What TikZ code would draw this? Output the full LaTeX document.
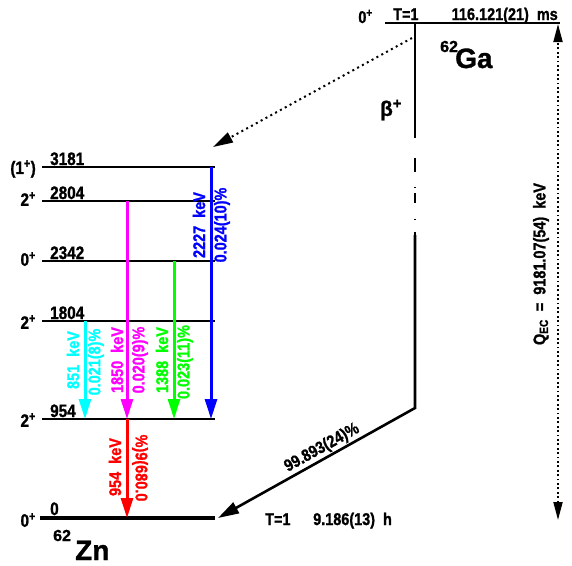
\documentclass[tikz,border=0pt]{standalone}
\usepackage{fontspec}
\setmainfont{Liberation Sans}[BoldFeatures={FakeBold=1.2}]
\newfontfamily\cnd{Liberation Sans}[FakeStretch=0.85,BoldFeatures={FakeBold=1.2}]
\usetikzlibrary{arrows.meta}
\definecolor{gcyan}{RGB}{0,255,255}
\definecolor{gmagenta}{RGB}{255,0,255}
\definecolor{ggreen}{RGB}{0,255,0}
\definecolor{gblue}{RGB}{0,0,255}
\definecolor{gred}{RGB}{255,0,0}
\tikzset{
  lvl/.style={line width=2.6pt},
  gnd/.style={line width=3.6pt},
  gam/.style={line width=3pt,-{Triangle[length=20pt,width=12pt]}},
  txt/.style={inner sep=0pt,font=\cnd\bfseries\fontsize{18}{18}\selectfont},
  gtxt/.style={inner sep=0pt,font=\cnd\bfseries\fontsize{17}{17}\selectfont,rotate=90},
  sml/.style={inner sep=0pt,font=\cnd\bfseries\fontsize{17}{17}\selectfont},
  big/.style={inner sep=0pt,font=\bfseries\fontsize{28}{28}\selectfont},
  bigsup/.style={inner sep=0pt,font=\bfseries\fontsize{16}{16}\selectfont},
  dots/.style={line width=2pt,dash pattern=on 2pt off 3.5pt},
}
\begin{document}
\begin{tikzpicture}[x=1pt,y=-1pt]
\useasboundingbox (0,0) rectangle (572,565);
% ---- 62Ga parent level
\coordinate (gaL) at (385,23);
\coordinate (gaR) at (560,23);
\draw[lvl] (gaL) -- (gaR);
\node[sml,anchor=base east] (gaspin) at (373,23) {0\textsuperscript{+}};
\node[sml,anchor=base west] (gaT) at (393,20) {T=1};
\node[sml,anchor=base east] (gahl) at (558,20) {116.121(21)\ \ ms};
\node[bigsup,anchor=base west] (ga62) at (440,52) {62};
\node[big,anchor=base west] (ganame) at (455,68) {Ga};
% beta line
\coordinate (b0) at (415,23);
\coordinate (b1) at (415,138);
\coordinate (b2) at (415,158);
\coordinate (b3) at (415,235);
\coordinate (bk) at (415,408);
\draw[line width=2.6pt] (b0) -- (b1);
\draw[line width=2.6pt,dash pattern=on 14pt off 15pt on 1pt off 5pt on 10pt off 16pt on 1pt off 12pt on 8pt] (b2) -- (b3);
\node[inner sep=0pt,font=\bfseries\fontsize{21}{21}\selectfont] (beta) at (391,110) {β\textsuperscript{+}};
% dotted feed arrow
\coordinate (fd0) at (412,38);
\coordinate (fd1) at (213,147);
\draw[dots,-{Triangle[length=20pt,width=11pt]}] (fd0) -- (fd1);
% QEC arrow
\coordinate (q0) at (558,520);
\coordinate (q1) at (558,24);
\draw[dots,line width=1.8pt,dash pattern=on 1.8pt off 2.6pt,{Triangle[length=18pt,width=9pt]}-{Triangle[length=18pt,width=9pt]}] (q0) -- (q1);
\node[sml,rotate=90] (qec) at (541,264) {Q\textsubscript{EC}\ \ =\ \ 9181.07(54)\ \ keV};
% ---- 62Zn levels
\foreach \nm/\y in {l3181/167,l2804/201,l2342/261,l1804/321,l954/419}{
  \coordinate (\nm-l) at (42,\y);
  \coordinate (\nm-r) at (215,\y);
  \draw[lvl] (\nm-l) -- (\nm-r);
}
\coordinate (l0-l) at (40,518);
\coordinate (l0-r) at (215,518);
\draw[gnd] (l0-l) -- (l0-r);
% energies
\node[txt,anchor=base west] (e3181) at (50,165) {3181};
\node[txt,anchor=base west] (e2804) at (50,199) {2804};
\node[txt,anchor=base west] (e2342) at (50,259) {2342};
\node[txt,anchor=base west] (e1804) at (50,319) {1804};
\node[txt,anchor=base west] (e954) at (50,417) {954};
\node[txt,anchor=base west] (e0) at (50,515) {0};
% spins
\node[txt,anchor=east] (s3181) at (36,169) {(1\textsuperscript{+})};
\node[txt,anchor=east] (s2804) at (36,199) {2\textsuperscript{+}};
\node[txt,anchor=east] (s2342) at (36,259) {0\textsuperscript{+}};
\node[txt,anchor=east] (s1804) at (36,322) {2\textsuperscript{+}};
\node[txt,anchor=east] (s954) at (36,420) {2\textsuperscript{+}};
\node[txt,anchor=east] (s0) at (36,520) {0\textsuperscript{+}};
\node[bigsup,anchor=base west] (zn62) at (53,541) {62};
\node[big,anchor=base west] (znname) at (75,560) {Zn};
% gammas
\coordinate (c1) at (85,321);   \coordinate (c2) at (85,419);
\coordinate (m1) at (127,201);  \coordinate (m2) at (127,419);
\coordinate (g1) at (174,261);  \coordinate (g2) at (174,419);
\coordinate (bl1) at (211,167); \coordinate (bl2) at (211,419);
\coordinate (r1) at (127,419);  \coordinate (r2) at (127,518);
\draw[gam,gcyan] (c1) -- (c2);
\draw[gam,gmagenta] (m1) -- (m2);
\draw[gam,ggreen] (g1) -- (g2);
\draw[gam,gblue] (bl1) -- (bl2);
\draw[gam,gred] (r1) -- (r2);
\node[gtxt,gcyan] (cE) at (73,360) {851\ \ keV};
\node[gtxt,gcyan] (cI) at (96,362) {0.021(8)\%};
\node[gtxt,gmagenta] (mE) at (117,360) {1850\ \ keV};
\node[gtxt,gmagenta] (mI) at (140,360) {0.020(9)\%};
\node[gtxt,ggreen] (gE) at (162,360) {1388\ \ keV};
\node[gtxt,ggreen] (gI) at (185,362) {0.023(11)\%};
\node[gtxt,gblue] (bE) at (199,225) {2227\ \ keV};
\node[gtxt,gblue] (bI) at (222,225) {0.024(10)\%};
\node[gtxt,gred] (rE) at (115,467) {954\ \ keV};
\node[gtxt,gred,rotate=180] (rI) at (140,468) {\%)9(680.0};
% ground-state feed
\coordinate (gs) at (218,518);
\draw[line width=2.6pt,line join=miter,-{Triangle[length=21pt,width=12pt]}] (b3) -- (bk) -- (gs);
\node[sml,rotate=29.2] (gsI) at (322,448) {99.893(24)\%};
\node[sml,anchor=base west] (znT) at (265,525) {T=1};
\node[sml,anchor=base west] (znhl) at (313,525) {9.186(13)\ \ h};
\end{tikzpicture}
\end{document}
